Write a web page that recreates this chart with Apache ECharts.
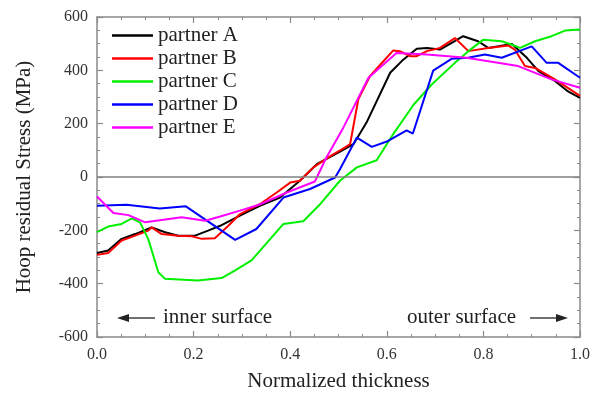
<!DOCTYPE html>
<html>
<head>
<meta charset="utf-8">
<script src="https://cdn.jsdelivr.net/npm/echarts@6/dist/echarts.min.js"></script>
<style>html,body{margin:0;padding:0;background:#fff}#c{width:608px;height:397px}</style>
</head>
<body>
<div id="c"></div>
<script>
var seriesNames = ['partner A', 'partner B', 'partner C', 'partner D', 'partner E'];
var seriesColors = ['#000000', '#ff0000', '#00f000', '#0000ff', '#ff00ff'];

var xA = [0, 0.023, 0.051, 0.079, 0.113, 0.141, 0.168, 0.203, 0.23, 0.255, 0.296, 0.337, 0.379, 0.42, 0.455, 0.505, 0.531, 0.558, 0.607, 0.634, 0.662, 0.683, 0.71, 0.738, 0.758, 0.789, 0.81, 0.859, 0.89, 0.914, 0.948, 0.976, 1.0];
var yA = [-285, -276, -232, -214, -189, -207, -220, -220, -201, -183, -145, -108, -77, -14, 48, 97, 123, 204, 391, 440, 481, 484, 478, 507, 528, 509, 484, 499, 447, 397, 360, 320, 297];

var xB = [0, 0.023, 0.051, 0.079, 0.106, 0.113, 0.134, 0.168, 0.196, 0.217, 0.244, 0.272, 0.296, 0.337, 0.372, 0.4, 0.42, 0.448, 0.489, 0.513, 0.524, 0.541, 0.565, 0.593, 0.613, 0.627, 0.648, 0.662, 0.683, 0.71, 0.741, 0.769, 0.81, 0.852, 0.865, 0.886, 0.907, 0.948, 1.0];
var yB = [-292, -285, -238, -220, -201, -189, -214, -220, -222, -232, -230, -183, -139, -102, -58, -21, -14, 36, 85, 110, 123, 291, 378, 434, 474, 472, 453, 453, 472, 484, 521, 472, 484, 493, 478, 416, 409, 366, 304];

var xC = [0, 0.023, 0.051, 0.072, 0.089, 0.106, 0.127, 0.141, 0.209, 0.258, 0.286, 0.32, 0.386, 0.427, 0.462, 0.503, 0.538, 0.579, 0.613, 0.655, 0.693, 0.741, 0.769, 0.8, 0.838, 0.859, 0.876, 0.907, 0.941, 0.969, 1.0];
var yC = [-207, -186, -176, -155, -170, -232, -357, -382, -388, -379, -350, -313, -176, -166, -102, -14, 36, 63, 160, 270, 347, 428, 472, 515, 509, 496, 484, 509, 528, 549, 553];

var xD = [0, 0.061, 0.13, 0.184, 0.286, 0.33, 0.386, 0.441, 0.493, 0.503, 0.538, 0.569, 0.6, 0.641, 0.654, 0.696, 0.734, 0.768, 0.803, 0.838, 0.9, 0.931, 0.955, 1.0];
var yD = [-108, -104, -118, -110, -236, -195, -77, -45, -2, 29, 148, 113, 133, 175, 163, 399, 443, 447, 459, 447, 490, 428, 428, 372];

var xE = [0, 0.034, 0.065, 0.1, 0.175, 0.224, 0.255, 0.296, 0.337, 0.393, 0.451, 0.475, 0.51, 0.562, 0.62, 0.683, 0.765, 0.872, 0.941, 1.0];
var yE = [-73, -135, -143, -170, -151, -164, -148, -126, -103, -58, -17, 73, 185, 372, 465, 459, 447, 416, 366, 335];

var xTicks = [0, 0.2, 0.4, 0.6, 0.8, 1.0];
var yTicks = [-600, -400, -200, 0, 200, 400, 600];

var FONT = "'Liberation Serif', 'DejaVu Serif', serif";
var chart = echarts.init(document.getElementById('c'), null, {renderer: 'canvas'});

function zip(xs, ys) { return xs.map(function (x, i) { return [x, ys[i]]; }); }
var xs = [xA, xB, xC, xD, xE];
var ys = [yA, yB, yC, yD, yE];

var series = seriesNames.map(function (n, i) {
  return {
    name: n, type: 'line', data: zip(xs[i], ys[i]),
    showSymbol: false, symbol: 'none',
    lineStyle: {color: seriesColors[i], width: 2},
    itemStyle: {color: seriesColors[i]},
    z: 3
  };
});
series.unshift({
  type: 'line', data: [], silent: true,
  markLine: {silent: true, symbol: 'none', label: {show: false},
    lineStyle: {color: '#808080', width: 1.5, type: 'solid'},
    data: [{yAxis: 0}]},
  z: 1
});

var axisLineStyle = {color: '#8a8a8a', width: 1.5};
function xAx(pos, show) {
  return {
    type: 'value', position: pos, min: xTicks[0], max: xTicks[xTicks.length - 1], interval: 0.2,
    axisLine: {show: true, onZero: false, lineStyle: axisLineStyle},
    axisTick: {show: true, inside: true, length: 6, lineStyle: {color: '#8a8a8a', width: 1.2}},
    minorTick: {show: true, splitNumber: 4, length: 3, lineStyle: {color: '#8a8a8a', width: 1}},
    splitLine: {show: false},
    axisLabel: {show: show, fontFamily: FONT, fontSize: 16, color: '#333', margin: 10,
      formatter: function (v) { return v.toFixed(1); }},
    name: show ? 'Normalized thickness' : '', nameLocation: 'middle', nameGap: 34,
    nameTextStyle: {fontFamily: FONT, fontSize: 21, color: '#222'}
  };
}
function yAx(pos, show) {
  return {
    type: 'value', position: pos, min: yTicks[0], max: yTicks[yTicks.length - 1], interval: 200,
    axisLine: {show: true, onZero: false, lineStyle: axisLineStyle},
    axisTick: {show: true, inside: true, length: 6, lineStyle: {color: '#8a8a8a', width: 1.2}},
    minorTick: {show: true, splitNumber: 4, length: 3, lineStyle: {color: '#8a8a8a', width: 1}},
    splitLine: {show: false},
    axisLabel: {show: show, fontFamily: FONT, fontSize: 16, color: '#333', margin: 9},
    name: show ? 'Hoop residual Stress (MPa)' : '', nameLocation: 'middle', nameGap: 62,
    nameTextStyle: {fontFamily: FONT, fontSize: 21, color: '#222'}
  };
}

function arrow(x1, x2, y) {
  var dir = x2 > x1 ? 1 : -1;
  return {
    type: 'group', children: [
      {type: 'line', shape: {x1: x1, y1: y, x2: x2 - dir * 8, y2: y}, style: {stroke: '#222', lineWidth: 1.3}},
      {type: 'polygon', shape: {points: [[x2, y], [x2 - dir * 12, y - 4], [x2 - dir * 12, y + 4]]}, style: {fill: '#222'}}
    ]
  };
}

chart.setOption({
  animation: false,
  backgroundColor: '#fff',
  grid: {left: 97, right: 28, top: 17, bottom: 56, containLabel: false},
  xAxis: [xAx('bottom', true), xAx('top', false)],
  yAxis: [yAx('left', true), yAx('right', false)],
  legend: {
    data: seriesNames, orient: 'vertical', left: 112, top: 25, padding: 0,
    icon: 'rect', itemWidth: 41, itemHeight: 2.5, itemGap: 2,
    textStyle: {fontFamily: FONT, fontSize: 21, color: '#222', lineHeight: 21}
  },
  graphic: [
    arrow(155, 117, 318),
    {type: 'text', left: 163, top: 307, style: {text: 'inner surface', font: '21px ' + FONT, fill: '#222'}},
    {type: 'text', left: 407, top: 307, style: {text: 'outer surface', font: '21px ' + FONT, fill: '#222'}},
    arrow(530, 568, 318)
  ],
  series: series
});
</script>
</body>
</html>
